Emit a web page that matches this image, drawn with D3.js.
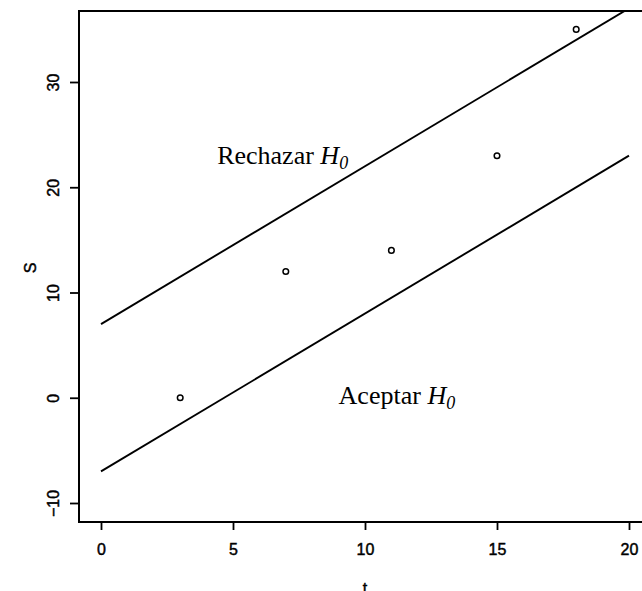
<!DOCTYPE html>
<html>
<head>
<meta charset="utf-8">
<script src="https://cdn.jsdelivr.net/npm/d3@7"></script>
<style>
  html, body { margin: 0; padding: 0; background: #fff; overflow: hidden; }
  svg { display: block; }
  .tick text { font-family: "Liberation Sans", Arial, sans-serif; font-size: 16px; fill: #000; stroke: #000; stroke-width: 0.45px; }
</style>
</head>
<body>
<script>
// Observed sequential test: stage t and cumulative statistic S
const tValues = [3, 7, 11, 15, 18];
const sValues = [0, 12, 14, 23, 35];

// Decision boundaries S = intercept + slope * t
const upperIntercept = 7;
const lowerIntercept = -7;
const slope = 1.5;
const lineRange = [0, 20];

const xTicks = [0, 5, 10, 15, 20];
const yTicks = [-10, 0, 10, 20, 30];

const regionLabels = [
  { text: "Rechazar ", t: 4.4, s: 22.2 },
  { text: "Aceptar ", t: 9.0, s: -0.6 }
];

const width = 642, height = 591;
const box = { left: 79, top: 11, right: 700, bottom: 522 };

const svg = d3.select("body").append("svg")
  .attr("width", width).attr("height", height);

const x = d3.scaleLinear().domain([0, 20]).range([101, 629]);
const y = d3.scaleLinear().domain([-10, 30]).range([503, 82]);

svg.append("defs").append("clipPath").attr("id", "plot-clip")
  .append("rect")
  .attr("x", box.left).attr("y", box.top)
  .attr("width", box.right - box.left).attr("height", box.bottom - box.top);

// Plot frame
svg.append("rect")
  .attr("x", box.left).attr("y", box.top)
  .attr("width", box.right - box.left).attr("height", box.bottom - box.top)
  .attr("fill", "none").attr("stroke", "#000").attr("stroke-width", 2);

// Axes
const xAxis = svg.append("g")
  .attr("transform", `translate(0,${box.bottom})`)
  .call(d3.axisBottom(x).tickValues(xTicks).tickSize(8).tickPadding(14).tickFormat(d3.format("d")));
xAxis.select(".domain").remove();
xAxis.selectAll(".tick line").attr("stroke", "#000").attr("stroke-width", 1.8);

const yAxis = svg.append("g")
  .attr("transform", `translate(${box.left},0)`)
  .call(d3.axisLeft(y).tickValues(yTicks).tickSize(9).tickFormat(d3.format("d")));
yAxis.select(".domain").remove();
yAxis.selectAll(".tick line").attr("stroke", "#000").attr("stroke-width", 1.8);
yAxis.selectAll(".tick text")
  .attr("x", 0).attr("dy", 0)
  .attr("text-anchor", "middle")
  .attr("transform", "translate(-20,0) rotate(-90)");

// Axis titles
svg.append("text")
  .attr("x", x(10)).attr("y", 594)
  .attr("text-anchor", "middle")
  .attr("font-family", "Liberation Sans, Arial, sans-serif")
  .attr("font-size", 16)
  .attr("stroke", "#000").attr("stroke-width", 0.45)
  .text("t");

svg.append("text")
  .attr("transform", `translate(36,${(y(10) + y(20)) / 2 + 28}) rotate(-90)`)
  .attr("text-anchor", "middle")
  .attr("font-family", "Liberation Sans, Arial, sans-serif")
  .attr("font-size", 16)
  .attr("stroke", "#000").attr("stroke-width", 0.45)
  .text("S");

// Boundary lines
const plot = svg.append("g").attr("clip-path", "url(#plot-clip)");
const line = d3.line().x(d => x(d[0])).y(d => y(d[1]));
[upperIntercept, lowerIntercept].forEach(b => {
  plot.append("path")
    .datum(lineRange.map(t => [t, b + slope * t]))
    .attr("d", line)
    .attr("fill", "none")
    .attr("stroke", "#000")
    .attr("stroke-width", 1.9);
});

// Observed points
plot.selectAll("circle.obs")
  .data(tValues.map((t, i) => [t, sValues[i]]))
  .join("circle")
  .attr("class", "obs")
  .attr("cx", d => x(d[0]))
  .attr("cy", d => y(d[1]))
  .attr("r", 2.8)
  .attr("fill", "none")
  .attr("stroke", "#000")
  .attr("stroke-width", 1.5);

// Region labels
regionLabels.forEach(l => {
  const txt = svg.append("text")
    .attr("x", x(l.t)).attr("y", y(l.s))
    .attr("font-family", "Liberation Serif, Times New Roman, serif")
    .attr("font-size", 26)
    .attr("fill", "#000");
  txt.append("tspan").text(l.text);
  txt.append("tspan").attr("font-style", "italic").text("H");
  txt.append("tspan").attr("font-style", "italic").attr("font-size", 18).attr("dy", 5).text("0");
});
</script>
</body>
</html>
